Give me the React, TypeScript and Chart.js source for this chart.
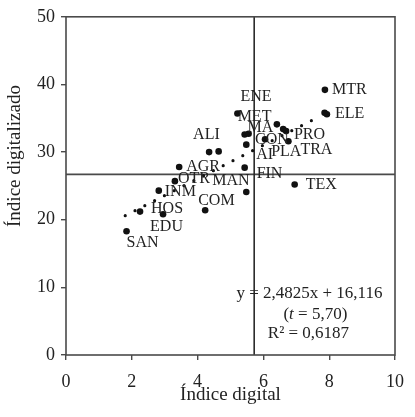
import React, { useEffect, useRef } from "react";
import { Chart, registerables } from "chart.js";

Chart.register(...registerables);

// ---------- data ----------
const sectorCodes = ["MTR", "ELE", "ENE", "MET", "MA", "CON", "AI", "PRO", "PLA", "TRA", "ALI", "FIN", "MAN", "AGR", "OTR", "INM", "HOS", "EDU", "COM", "SAN", "TEX", "", "", ""];
const digitalIndex = [7.87, 7.93, 5.21, 5.43, 5.55, 6.05, 5.48, 6.41, 6.6, 6.76, 4.35, 5.43, 5.48, 3.44, 3.31, 2.82, 2.25, 2.95, 4.23, 1.84, 6.95, 4.64, 6.69, 7.86];
const digitizedIndex = [39.2, 35.6, 35.7, 32.6, 32.7, 31.9, 31.1, 34.1, 33.4, 31.6, 30.0, 27.7, 24.1, 27.8, 25.7, 24.3, 21.2, 20.8, 21.4, 18.3, 25.2, 30.1, 33.1, 35.8];
const regressionX = [1.8, 7.6];
const regressionY = [20.6, 35.0];
const meanDigital = 5.72;
const meanDigitized = 26.7;
const xTicks = [0, 2, 4, 6, 8, 10];
const yTicks = [0, 10, 20, 30, 40, 50];
const xTitle = "Índice digital";
const yTitle = "Índice digitalizado";
const equationText = "y = 2,4825x + 16,116";
const tStatText = ["(", "t", " = 5,70)"];
const r2Text = "R² = 0,6187";

// ---------- layout (pixel offsets for labels) ----------
const labelOffsets: Record<string, [number, number]> = {
  MTR: [7, 0], ELE: [8, 0], ENE: [3, -17], MET: [-7, -18], MA: [-1, -6],
  CON: [-10, 1], AI: [10, 10], PRO: [17, 10], PLA: [-12, 23], TRA: [12, 9],
  ALI: [-16, -17], FIN: [12, 6], MAN: [-34, -11], AGR: [7, 0], OTR: [3, -2],
  INM: [6, 1], HOS: [11, -3], EDU: [-13, 12], COM: [-7, -9], SAN: [0, 12], TEX: [11, 0],
};

const SERIF = "'Liberation Serif', 'Times New Roman', serif";
const INK = "#222";
const FRAME = "#4a4a4a";

const overlayPlugin = {
  id: "overlay",
  afterDatasetsDraw(chart: any) {
    const { ctx, chartArea, scales } = chart;
    const xs = scales.x, ys = scales.y;
    ctx.save();
    // frame
    ctx.strokeStyle = FRAME;
    ctx.lineWidth = 1.6;
    ctx.strokeRect(chartArea.left, chartArea.top, chartArea.right - chartArea.left, chartArea.bottom - chartArea.top);
    // point labels
    const meta = chart.getDatasetMeta(0);
    ctx.fillStyle = INK;
    ctx.font = `16px ${SERIF}`;
    ctx.textAlign = "left";
    ctx.textBaseline = "middle";
    meta.data.forEach((el: any, i: number) => {
      const name = sectorCodes[i];
      if (!name) return;
      const off = labelOffsets[name] || [6, 0];
      ctx.fillText(name, el.x + off[0], el.y + off[1]);
    });
    // equation block
    ctx.font = `17px ${SERIF}`;
    ctx.textAlign = "center";
    ctx.fillText(equationText, xs.getPixelForValue(7.4), ys.getPixelForValue(9.1));
    ctx.fillText(r2Text, xs.getPixelForValue(7.37), ys.getPixelForValue(3.2));
    // (t = 5,70) with italic t
    const cx = xs.getPixelForValue(7.58);
    const cy = ys.getPixelForValue(6.0);
    const fonts = [`17px ${SERIF}`, `italic 17px ${SERIF}`, `17px ${SERIF}`];
    let total = 0;
    const widths = tStatText.map((s, k) => {
      ctx.font = fonts[k];
      const w = ctx.measureText(s).width;
      total += w;
      return w;
    });
    let x0 = cx - total / 2;
    ctx.textAlign = "left";
    tStatText.forEach((s, k) => {
      ctx.font = fonts[k];
      ctx.fillText(s, x0, cy);
      x0 += widths[k];
    });
    // y axis title
    ctx.font = `19px ${SERIF}`;
    ctx.textAlign = "center";
    ctx.translate(15, 156);
    ctx.rotate(-Math.PI / 2);
    ctx.fillText(yTitle, 0, 0);
    ctx.restore();
  },
};

export default function App() {
  const ref = useRef<HTMLCanvasElement | null>(null);
  useEffect(() => {
    if (!ref.current) return;
    const points = digitalIndex.map((x, i) => ({ x, y: digitizedIndex[i] }));
    const reg = regressionX.map((x, i) => ({ x, y: regressionY[i] }));
    const chart = new Chart(ref.current, {
      type: "scatter",
      data: {
        datasets: [
          {
            label: "sectores",
            data: points,
            pointRadius: 3.3,
            pointBackgroundColor: "#111",
            pointBorderWidth: 0,
            showLine: false,
          },
          {
            label: "regresión",
            data: reg,
            showLine: true,
            pointRadius: 0,
            borderColor: "#111",
            borderWidth: 3.2,
            borderDash: [0, 11],
            borderCapStyle: "round",
          } as any,
          {
            label: "media x",
            data: [{ x: meanDigital, y: 0 }, { x: meanDigital, y: 50 }],
            showLine: true,
            pointRadius: 0,
            borderColor: "#2a2a2a",
            borderWidth: 1.6,
          },
          {
            label: "media y",
            data: [{ x: 0, y: meanDigitized }, { x: 10, y: meanDigitized }],
            showLine: true,
            pointRadius: 0,
            borderColor: FRAME,
            borderWidth: 1.6,
          },
        ],
      },
      options: {
        animation: false,
        responsive: false,
        events: [],
        layout: { padding: { top: 15, right: 10, left: 0, bottom: 0 } },
        plugins: { legend: { display: false }, tooltip: { enabled: false } },
        scales: {
          x: {
            type: "linear",
            min: 0,
            max: 10,
            afterBuildTicks: (s: any) => { s.ticks = xTicks.map((v) => ({ value: v })); },
            afterFit: (s: any) => { s.height = 62; },
            grid: { drawOnChartArea: false, drawTicks: true, tickLength: 5, color: FRAME, lineWidth: 1.4 },
            border: { display: false },
            ticks: { font: { family: SERIF, size: 18 }, color: INK, padding: 11, maxRotation: 0 },
            title: { display: true, text: xTitle, font: { family: SERIF, size: 19 }, color: INK, padding: { top: 0, bottom: 11 } },
          },
          y: {
            type: "linear",
            min: 0,
            max: 50,
            afterBuildTicks: (s: any) => { s.ticks = yTicks.map((v) => ({ value: v })); },
            afterFit: (s: any) => { s.width = 66; },
            grid: { drawOnChartArea: false, drawTicks: true, tickLength: 5, color: FRAME, lineWidth: 1.4 },
            border: { display: false },
            ticks: { font: { family: SERIF, size: 18 }, color: INK, padding: 6 },
          },
        },
      },
      plugins: [overlayPlugin],
    } as any);
    return () => chart.destroy();
  }, []);
  return (
    <div style={{ position: "absolute", left: 0, top: 0, width: 415, height: 417, background: "#fff" }}>
      <canvas ref={ref} width={415} height={417} />
    </div>
  );
}
